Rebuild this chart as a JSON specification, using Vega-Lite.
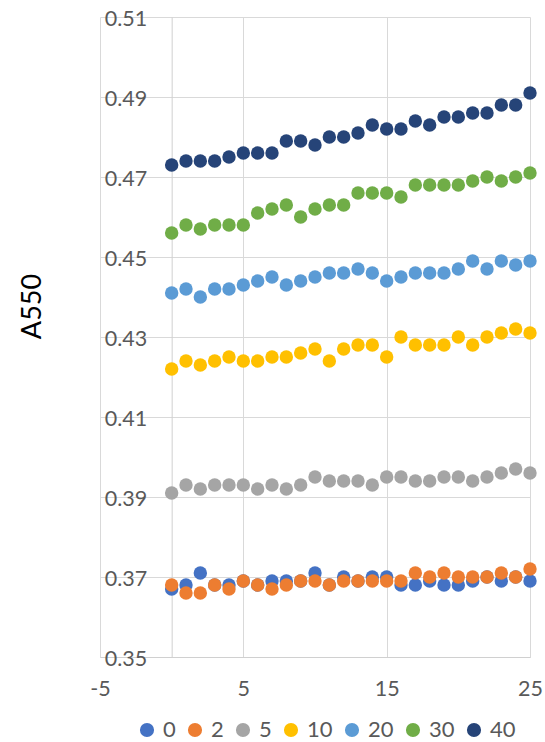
{
  "$schema": "https://vega.github.io/schema/vega-lite/v6.json",
  "autosize": "none",
  "padding": {"left": 100, "top": 17, "right": 15, "bottom": 85},
  "width": 430,
  "height": 640,
  "background": "white",
  "config": {
    "view": {"stroke": null},
    "font": "Lato",
    "axis": {"labelFont": "Lato", "labelColor": "#595959", "labelFontSize": 21.5, "gridColor": "#d9d9d9", "gridWidth": 1, "domainColor": "#d0d0d0", "domainWidth": 1, "ticks": false},
    "legend": {"labelFont": "Lato", "labelColor": "#595959", "labelFontSize": 22}
  },
  "data": {"values": [
    {"x":0,"s":"0","a":0.367},{"x":1,"s":"0","a":0.368},{"x":2,"s":"0","a":0.371},{"x":3,"s":"0","a":0.368},{"x":4,"s":"0","a":0.368},{"x":5,"s":"0","a":0.369},{"x":6,"s":"0","a":0.368},{"x":7,"s":"0","a":0.369},{"x":8,"s":"0","a":0.369},{"x":9,"s":"0","a":0.369},{"x":10,"s":"0","a":0.371},{"x":11,"s":"0","a":0.368},{"x":12,"s":"0","a":0.370},{"x":13,"s":"0","a":0.369},{"x":14,"s":"0","a":0.370},{"x":15,"s":"0","a":0.370},{"x":16,"s":"0","a":0.368},{"x":17,"s":"0","a":0.368},{"x":18,"s":"0","a":0.369},{"x":19,"s":"0","a":0.368},{"x":20,"s":"0","a":0.368},{"x":21,"s":"0","a":0.369},{"x":22,"s":"0","a":0.370},{"x":23,"s":"0","a":0.369},{"x":24,"s":"0","a":0.370},{"x":25,"s":"0","a":0.369},
    {"x":0,"s":"2","a":0.368},{"x":1,"s":"2","a":0.366},{"x":2,"s":"2","a":0.366},{"x":3,"s":"2","a":0.368},{"x":4,"s":"2","a":0.367},{"x":5,"s":"2","a":0.369},{"x":6,"s":"2","a":0.368},{"x":7,"s":"2","a":0.367},{"x":8,"s":"2","a":0.368},{"x":9,"s":"2","a":0.369},{"x":10,"s":"2","a":0.369},{"x":11,"s":"2","a":0.368},{"x":12,"s":"2","a":0.369},{"x":13,"s":"2","a":0.369},{"x":14,"s":"2","a":0.369},{"x":15,"s":"2","a":0.369},{"x":16,"s":"2","a":0.369},{"x":17,"s":"2","a":0.371},{"x":18,"s":"2","a":0.370},{"x":19,"s":"2","a":0.371},{"x":20,"s":"2","a":0.370},{"x":21,"s":"2","a":0.370},{"x":22,"s":"2","a":0.370},{"x":23,"s":"2","a":0.371},{"x":24,"s":"2","a":0.370},{"x":25,"s":"2","a":0.372},
    {"x":0,"s":"5","a":0.391},{"x":1,"s":"5","a":0.393},{"x":2,"s":"5","a":0.392},{"x":3,"s":"5","a":0.393},{"x":4,"s":"5","a":0.393},{"x":5,"s":"5","a":0.393},{"x":6,"s":"5","a":0.392},{"x":7,"s":"5","a":0.393},{"x":8,"s":"5","a":0.392},{"x":9,"s":"5","a":0.393},{"x":10,"s":"5","a":0.395},{"x":11,"s":"5","a":0.394},{"x":12,"s":"5","a":0.394},{"x":13,"s":"5","a":0.394},{"x":14,"s":"5","a":0.393},{"x":15,"s":"5","a":0.395},{"x":16,"s":"5","a":0.395},{"x":17,"s":"5","a":0.394},{"x":18,"s":"5","a":0.394},{"x":19,"s":"5","a":0.395},{"x":20,"s":"5","a":0.395},{"x":21,"s":"5","a":0.394},{"x":22,"s":"5","a":0.395},{"x":23,"s":"5","a":0.396},{"x":24,"s":"5","a":0.397},{"x":25,"s":"5","a":0.396},
    {"x":0,"s":"10","a":0.422},{"x":1,"s":"10","a":0.424},{"x":2,"s":"10","a":0.423},{"x":3,"s":"10","a":0.424},{"x":4,"s":"10","a":0.425},{"x":5,"s":"10","a":0.424},{"x":6,"s":"10","a":0.424},{"x":7,"s":"10","a":0.425},{"x":8,"s":"10","a":0.425},{"x":9,"s":"10","a":0.426},{"x":10,"s":"10","a":0.427},{"x":11,"s":"10","a":0.424},{"x":12,"s":"10","a":0.427},{"x":13,"s":"10","a":0.428},{"x":14,"s":"10","a":0.428},{"x":15,"s":"10","a":0.425},{"x":16,"s":"10","a":0.430},{"x":17,"s":"10","a":0.428},{"x":18,"s":"10","a":0.428},{"x":19,"s":"10","a":0.428},{"x":20,"s":"10","a":0.430},{"x":21,"s":"10","a":0.428},{"x":22,"s":"10","a":0.430},{"x":23,"s":"10","a":0.431},{"x":24,"s":"10","a":0.432},{"x":25,"s":"10","a":0.431},
    {"x":0,"s":"20","a":0.441},{"x":1,"s":"20","a":0.442},{"x":2,"s":"20","a":0.440},{"x":3,"s":"20","a":0.442},{"x":4,"s":"20","a":0.442},{"x":5,"s":"20","a":0.443},{"x":6,"s":"20","a":0.444},{"x":7,"s":"20","a":0.445},{"x":8,"s":"20","a":0.443},{"x":9,"s":"20","a":0.444},{"x":10,"s":"20","a":0.445},{"x":11,"s":"20","a":0.446},{"x":12,"s":"20","a":0.446},{"x":13,"s":"20","a":0.447},{"x":14,"s":"20","a":0.446},{"x":15,"s":"20","a":0.444},{"x":16,"s":"20","a":0.445},{"x":17,"s":"20","a":0.446},{"x":18,"s":"20","a":0.446},{"x":19,"s":"20","a":0.446},{"x":20,"s":"20","a":0.447},{"x":21,"s":"20","a":0.449},{"x":22,"s":"20","a":0.447},{"x":23,"s":"20","a":0.449},{"x":24,"s":"20","a":0.448},{"x":25,"s":"20","a":0.449},
    {"x":0,"s":"30","a":0.456},{"x":1,"s":"30","a":0.458},{"x":2,"s":"30","a":0.457},{"x":3,"s":"30","a":0.458},{"x":4,"s":"30","a":0.458},{"x":5,"s":"30","a":0.458},{"x":6,"s":"30","a":0.461},{"x":7,"s":"30","a":0.462},{"x":8,"s":"30","a":0.463},{"x":9,"s":"30","a":0.460},{"x":10,"s":"30","a":0.462},{"x":11,"s":"30","a":0.463},{"x":12,"s":"30","a":0.463},{"x":13,"s":"30","a":0.466},{"x":14,"s":"30","a":0.466},{"x":15,"s":"30","a":0.466},{"x":16,"s":"30","a":0.465},{"x":17,"s":"30","a":0.468},{"x":18,"s":"30","a":0.468},{"x":19,"s":"30","a":0.468},{"x":20,"s":"30","a":0.468},{"x":21,"s":"30","a":0.469},{"x":22,"s":"30","a":0.470},{"x":23,"s":"30","a":0.469},{"x":24,"s":"30","a":0.470},{"x":25,"s":"30","a":0.471},
    {"x":0,"s":"40","a":0.473},{"x":1,"s":"40","a":0.474},{"x":2,"s":"40","a":0.474},{"x":3,"s":"40","a":0.474},{"x":4,"s":"40","a":0.475},{"x":5,"s":"40","a":0.476},{"x":6,"s":"40","a":0.476},{"x":7,"s":"40","a":0.476},{"x":8,"s":"40","a":0.479},{"x":9,"s":"40","a":0.479},{"x":10,"s":"40","a":0.478},{"x":11,"s":"40","a":0.480},{"x":12,"s":"40","a":0.480},{"x":13,"s":"40","a":0.481},{"x":14,"s":"40","a":0.483},{"x":15,"s":"40","a":0.482},{"x":16,"s":"40","a":0.482},{"x":17,"s":"40","a":0.484},{"x":18,"s":"40","a":0.483},{"x":19,"s":"40","a":0.485},{"x":20,"s":"40","a":0.485},{"x":21,"s":"40","a":0.486},{"x":22,"s":"40","a":0.486},{"x":23,"s":"40","a":0.488},{"x":24,"s":"40","a":0.488},{"x":25,"s":"40","a":0.491}
  ]},
  "mark": {"type": "point", "filled": true, "opacity": 1, "size": 180, "shape": "circle"},
  "encoding": {
    "x": {"field": "x", "type": "quantitative",
      "scale": {"domain": [-5, 25], "nice": false, "zero": false},
      "axis": {"title": null, "values": [-5, 5, 15, 25], "labelExpr": "'' + datum.value", "grid": true, "labelPadding": 21, "labelFlush": false}},
    "y": {"field": "a", "type": "quantitative",
      "scale": {"domain": [0.35, 0.51], "nice": false, "zero": false},
      "axis": {"title": "A550", "values": [0.35, 0.37, 0.39, 0.41, 0.43, 0.45, 0.47, 0.49, 0.51], "format": ".2f", "grid": true, "offset": -71.67, "labelPadding": 25, "labelOffset": 2, "labelFlush": false,
        "titleFont": "Lato", "titleFontSize": 27, "titleFontWeight": "normal", "titleColor": "#000000", "titleX": -139, "titleY": 289, "titleAngle": -90, "titleBaseline": "middle", "titleAlign": "center"}},
    "color": {"field": "s", "type": "nominal",
      "scale": {"domain": ["0", "2", "5", "10", "20", "30", "40"], "range": ["#4472C4", "#ED7D31", "#A5A5A5", "#FFC000", "#5B9BD5", "#70AD47", "#264478"]},
      "legend": {"title": null, "orient": "none", "direction": "horizontal", "legendX": 36, "legendY": 702, "symbolType": "circle", "symbolSize": 200, "symbolStrokeWidth": 0, "symbolOpacity": 1, "labelOffset": 5, "columnPadding": 8}}
  }
}
